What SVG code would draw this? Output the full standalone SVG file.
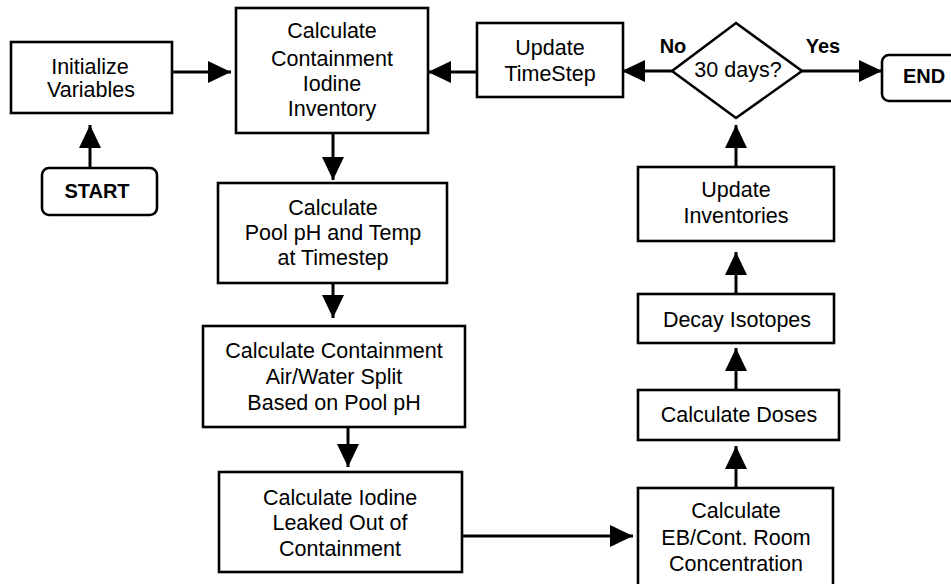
<svg xmlns="http://www.w3.org/2000/svg" width="951" height="584" viewBox="0 0 951 584">
<defs>
<style>
.box{fill:#fff;stroke:#000;stroke-width:2.6}
.t{font-family:"Liberation Sans",Arial,sans-serif;font-size:21.5px;fill:#000;text-anchor:middle}
.b{font-weight:bold;font-size:20px}
.c{stroke:#000;stroke-width:3;fill:none;marker-end:url(#ah)}
</style>
<marker id="ah" markerUnits="userSpaceOnUse" markerWidth="23" markerHeight="22" refX="23" refY="11" orient="auto">
<path d="M0,0 L23,11 L0,22 z" fill="#000"/>
</marker>
</defs>
<rect width="951" height="584" fill="#fff"/>
<g id="connectors">
<line class="c" x1="173" y1="72" x2="231" y2="72"/>
<line class="c" x1="90" y1="168" x2="90" y2="125"/>
<line class="c" x1="333" y1="134" x2="333" y2="180"/>
<line class="c" x1="333" y1="284" x2="333" y2="318"/>
<line class="c" x1="348" y1="428" x2="348" y2="467"/>
<line class="c" x1="463" y1="536" x2="633" y2="536"/>
<line class="c" x1="736" y1="487" x2="736" y2="446"/>
<line class="c" x1="736" y1="389" x2="736" y2="348"/>
<line class="c" x1="736" y1="293" x2="736" y2="252"/>
<line class="c" x1="736" y1="166" x2="736" y2="125"/>
<line class="c" x1="672" y1="71" x2="622" y2="71"/>
<line class="c" x1="476" y1="72" x2="428" y2="72"/>
<line class="c" x1="802" y1="71" x2="882" y2="71"/>
</g>
<g id="init">
<rect class="box" x="11" y="42" width="161" height="71"/>
<text class="t" x="90" y="74">Initialize</text>
<text class="t" x="91" y="97">Variables</text>
</g>
<g id="start">
<rect class="box" x="42" y="168" width="115" height="47" rx="7"/>
<text class="t b" x="97" y="198">START</text>
</g>
<g id="calcInventory">
<rect class="box" x="236" y="8" width="192" height="125"/>
<text class="t" x="332" y="38">Calculate</text>
<text class="t" x="332" y="66">Containment</text>
<text class="t" x="332" y="91">Iodine</text>
<text class="t" x="332" y="116">Inventory</text>
</g>
<g id="poolPH">
<rect class="box" x="218" y="183" width="229" height="100"/>
<text class="t" x="333" y="215">Calculate</text>
<text class="t" x="333" y="240">Pool pH and Temp</text>
<text class="t" x="333" y="265">at Timestep</text>
</g>
<g id="split">
<rect class="box" x="203" y="326" width="262" height="101"/>
<text class="t" x="334" y="358">Calculate Containment</text>
<text class="t" x="334" y="384">Air/Water Split</text>
<text class="t" x="334" y="410">Based on Pool pH</text>
</g>
<g id="leaked">
<rect class="box" x="219" y="472" width="243" height="100"/>
<text class="t" x="340" y="505">Calculate Iodine</text>
<text class="t" x="340" y="530">Leaked Out of</text>
<text class="t" x="340" y="556">Containment</text>
</g>
<g id="eb">
<rect class="box" x="638" y="488" width="195" height="100"/>
<text class="t" x="736" y="518">Calculate</text>
<text class="t" x="736" y="545">EB/Cont. Room</text>
<text class="t" x="736" y="571">Concentration</text>
</g>
<g id="doses">
<rect class="box" x="638" y="390" width="201" height="50"/>
<text class="t" x="739" y="422">Calculate Doses</text>
</g>
<g id="decay">
<rect class="box" x="638" y="294" width="196" height="49"/>
<text class="t" x="737" y="327">Decay Isotopes</text>
</g>
<g id="updateInv">
<rect class="box" x="638" y="167" width="196" height="74"/>
<text class="t" x="736" y="197">Update</text>
<text class="t" x="736" y="223">Inventories</text>
</g>
<g id="decision">
<polygon class="box" points="736,23 802,71 736,118 672,71"/>
<text class="t" x="738" y="77">30 days?</text>
<text class="t b" x="673" y="53">No</text>
<text class="t b" x="823" y="53">Yes</text>
</g>
<g id="updateTime">
<rect class="box" x="477" y="23" width="146" height="74"/>
<text class="t" x="550" y="55">Update</text>
<text class="t" x="550" y="81">TimeStep</text>
</g>
<g id="end">
<rect class="box" x="882" y="55" width="80" height="46" rx="7"/>
<text class="t b" x="924" y="83">END</text>
</g>
</svg>
